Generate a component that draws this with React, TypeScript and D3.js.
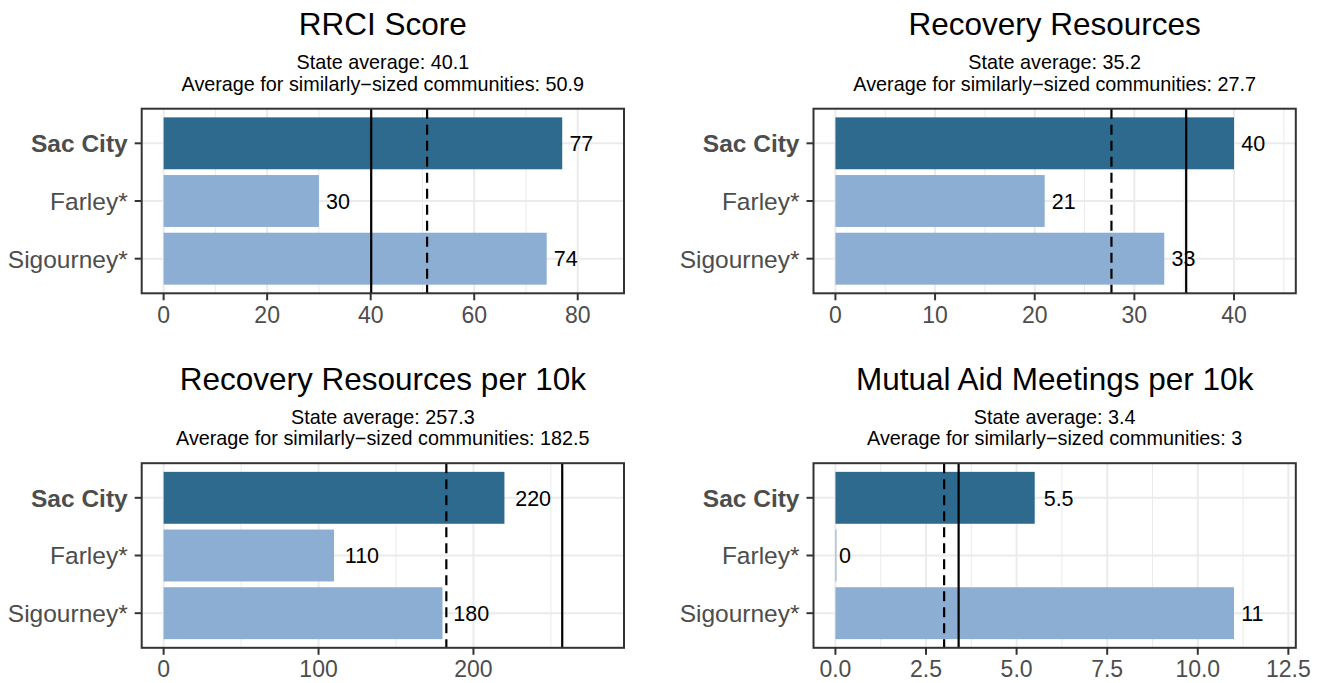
// @ts-nocheck
import React from 'react';
import * as d3 from 'd3';

// ---- data ----
const communities = ["Sac City", "Farley*", "Sigourney*"];
const panelTitles = [
  "RRCI Score",
  "Recovery Resources",
  "Recovery Resources per 10k",
  "Mutual Aid Meetings per 10k",
];
const rrciScore = [77, 30, 74];
const recoveryResources = [40, 21, 33];
const resourcesPer10k = [220, 110, 180];
const meetingsPer10k = [5.5, 0, 11];
const stateAverages = [40.1, 35.2, 257.3, 3.4];
const peerAverages = [50.9, 27.7, 182.5, 3];
const tickValues = [
  [0, 20, 40, 60, 80],
  [0, 10, 20, 30, 40],
  [0, 100, 200],
  [0, 2.5, 5, 7.5, 10, 12.5],
];
const tickFormats = ["d", "d", "d", ".1f"];
const seriesValues = [rrciScore, recoveryResources, resourcesPer10k, meetingsPer10k];

// ---- layout ----
const W = 1326;
const H = 683;
const colX = [141.7, 813.5];
const rowY = [108.7, 463.2];
const panelW = 482.3;
const panelH = 184.6;
const FONT = "'Liberation Sans', Arial, Helvetica, sans-serif";
const dark = "#2e6a8e";
const light = "#8caed3";
const axisGrey = "#4d4d4d";

// rough Arial advance widths, used for ggplot-like hjust on value labels
const charW = (c) => (c === "." ? 0.278 : 0.556);
const textWidth = (s, size) => s.split("").reduce((a, c) => a + charW(c), 0) * size;

const Panel = ({ idx }) => {
  const x0 = colX[idx % 2];
  const y0 = rowY[Math.floor(idx / 2)];
  const values = seriesValues[idx];
  const m = d3.max([...values, stateAverages[idx], peerAverages[idx]]) * 1.1;
  const x = d3.scaleLinear().domain([-0.05 * m, 1.05 * m]).range([x0, x0 + panelW]);
  const y = d3.scaleLinear().domain([0.4, 3.6]).range([y0, y0 + panelH]);
  const band = y(1.45) - y(1);

  const ticks = tickValues[idx];
  const step = ticks[1] - ticks[0];
  const minor = d3.range(ticks[0] - step / 2, 1.05 * m, step).filter(v => v > -0.05 * m && v < 1.05 * m);
  const fmt = d3.format(tickFormats[idx]);
  const cx = x0 + panelW / 2;
  const bottom = y0 + panelH;
  const labelSize = 21.5;

  return (
    <g>
      <text x={cx} y={y0 - 73.7} textAnchor="middle" fontSize={31.5} fill="#000">{panelTitles[idx]}</text>
      <text x={cx} y={y0 - 39.4} textAnchor="middle" fontSize={19.8} fill="#000">
        {`State average: ${stateAverages[idx]}`}
      </text>
      <text x={cx} y={y0 - 18} textAnchor="middle" fontSize={19.8} fill="#000">
        {`Average for similarly\u2212sized communities: ${peerAverages[idx]}`}
      </text>

      {/* grid */}
      {minor.map(v => (
        <line key={"mn" + v} x1={x(v)} x2={x(v)} y1={y0} y2={bottom} stroke="#ebebeb" strokeWidth={1} />
      ))}
      {ticks.map(v => (
        <line key={"mj" + v} x1={x(v)} x2={x(v)} y1={y0} y2={bottom} stroke="#ebebeb" strokeWidth={2} />
      ))}
      {communities.map((c, i) => (
        <line key={"hg" + c} x1={x0} x2={x0 + panelW} y1={y(i + 1)} y2={y(i + 1)} stroke="#ebebeb" strokeWidth={2} />
      ))}

      {/* bars */}
      {values.map((v, i) => (
        <rect key={"b" + i} x={x(0)} y={y(i + 1) - band} width={Math.max(1, x(v) - x(0))} height={band * 2}
          fill={i === 0 ? dark : light} />
      ))}

      {/* reference lines */}
      <line x1={x(stateAverages[idx])} x2={x(stateAverages[idx])} y1={y0} y2={bottom} stroke="#000" strokeWidth={2.2} />
      <line x1={x(peerAverages[idx])} x2={x(peerAverages[idx])} y1={y0} y2={bottom} stroke="#000" strokeWidth={2.2}
        strokeDasharray="10 6" />

      {/* value labels */}
      {values.map((v, i) => {
        const s = String(v);
        return (
          <text key={"l" + i} x={x(v) + 0.3 * textWidth(s, labelSize)} y={y(i + 1)} dy="0.36em"
            fontSize={labelSize} fill="#000">{s}</text>
        );
      })}

      {/* border */}
      <rect x={x0} y={y0} width={panelW} height={panelH} fill="none" stroke="#333333" strokeWidth={2} />

      {/* y axis */}
      {communities.map((c, i) => (
        <g key={"ya" + c}>
          <line x1={x0 - 7} x2={x0} y1={y(i + 1)} y2={y(i + 1)} stroke="#333333" strokeWidth={2} />
          <text x={x0 - 14} y={y(i + 1)} dy="0.36em" textAnchor="end" fontSize={24.5} fill={axisGrey}
            fontWeight={i === 0 ? "bold" : "normal"}>{c}</text>
        </g>
      ))}

      {/* x axis */}
      {ticks.map(v => (
        <g key={"xa" + v}>
          <line x1={x(v)} x2={x(v)} y1={bottom} y2={bottom + 7} stroke="#333333" strokeWidth={2} />
          <text x={x(v)} y={bottom + 29.5} textAnchor="middle" fontSize={23} fill={axisGrey}>{fmt(v)}</text>
        </g>
      ))}
    </g>
  );
};

export default function App() {
  return (
    <svg width={W} height={H} viewBox={`0 0 ${W} ${H}`}
      style={{ position: "absolute", left: 0, top: 0, display: "block", background: "#fff" }}
      fontFamily={FONT}>
      <rect x={0} y={0} width={W} height={H} fill="#fff" />
      {[0, 1, 2, 3].map(i => <Panel key={i} idx={i} />)}
    </svg>
  );
}
